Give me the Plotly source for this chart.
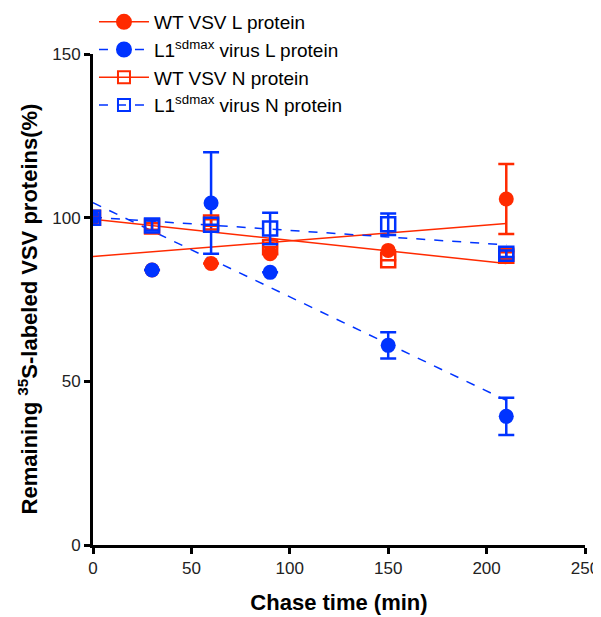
import numpy as np
import plotly.graph_objects as go

time_min = [0, 30, 60, 90, 150, 210]

wt_L = [100, 84, 86, 89, 90, 105.7]
wt_L_err = [0, 0, 0, 0, 0, 10.7]

l1_L = [100, 84, 104.5, 83.3, 61, 39.3]
l1_L_err = [0, 0, 15.5, 0, 4, 5.7]

wt_N = [100, 97.3, 98.5, 91, 87, 88.4]
wt_N_err = [0, 1, 1, 0, 0, 1]

l1_N = [100, 97.6, 97.8, 96.7, 98, 89]
l1_N_err = [0, 1.5, 0, 4.8, 3.3, 1]

names = ["WT VSV L protein", "L1<sup>sdmax</sup> virus L protein",
         "WT VSV N protein", "L1<sup>sdmax</sup> virus N protein"]

RED = "#FF2A00"
BLUE = "#0033FF"
FONT = "Arial, Liberation Sans, sans-serif"

series = [
    (wt_L, wt_L_err, RED, "circle", "solid"),
    (l1_L, l1_L_err, BLUE, "circle", "dash"),
    (wt_N, wt_N_err, RED, "square-open", "solid"),
    (l1_N, l1_N_err, BLUE, "square-open", "dash"),
]

fig = go.Figure()

x_fit = np.array([0, 210])
# regression lines
for ys, err, col, sym, dash in series:
    slope, icpt = np.polyfit(time_min, ys, 1)
    fig.add_trace(go.Scatter(x=x_fit, y=icpt + slope * x_fit, mode="lines",
                             line=dict(color=col, width=1.5, dash="dash" if dash == "dash" else "solid"),
                             showlegend=False, hoverinfo="skip"))

# data points
for ys, err, col, sym, dash in series:
    fig.add_trace(go.Scatter(x=time_min, y=ys, mode="markers",
                             marker=dict(symbol=sym, size=15 if sym == "circle" else 14, color=col,
                                         line=dict(color=col, width=2.5 if sym != "circle" else 0)),
                             error_y=dict(type="data", array=err, visible=True, color=col,
                                          thickness=2.5, width=8),
                             showlegend=False))

# legend entries
for name, (ys, err, col, sym, dash) in zip(names, series):
    fig.add_trace(go.Scatter(x=[None], y=[None], mode="lines+markers", name=name,
                             marker=dict(symbol=sym, size=14 if sym == "circle" else 12, color=col,
                                         line=dict(color=col, width=2)),
                             line=dict(color=col, width=1.5, dash="dash" if dash == "dash" else "solid")))

axis_common = dict(showline=True, linecolor="black", linewidth=3, ticks="outside",
                   ticklen=6, tickwidth=2.5, tickcolor="black", showgrid=False, zeroline=False,
                   automargin=False,
                   tickfont=dict(family=FONT, size=17, color="#222"))

fig.update_layout(
    width=593, height=609,
    margin=dict(l=85, r=16, t=46, b=72, autoexpand=False),
    plot_bgcolor="white", paper_bgcolor="white",
    xaxis=dict(range=[0, 250], tickvals=[0, 50, 100, 150, 200, 250],
               title=dict(text="<b>Chase time (min)</b>", font=dict(family=FONT, size=22, color="black"), standoff=18),
               **axis_common),
    yaxis=dict(range=[0, 150], tickvals=[0, 50, 100, 150], **axis_common),
    annotations=[dict(text="<b>Remaining <sup>35</sup>S-labeled VSV proteins(%)</b>",
                      xref="paper", yref="paper", x=-0.132, y=0.48, textangle=-90,
                      showarrow=False, xanchor="center", yanchor="middle",
                      font=dict(family=FONT, size=22, color="black"))],
    legend=dict(x=0.002, y=1.104, xanchor="left", yanchor="top",
                font=dict(family=FONT, size=19, color="black"),
                bgcolor="rgba(0,0,0,0)", tracegroupgap=0, itemwidth=50),
    showlegend=True,
)

fig.write_html("out.html")
